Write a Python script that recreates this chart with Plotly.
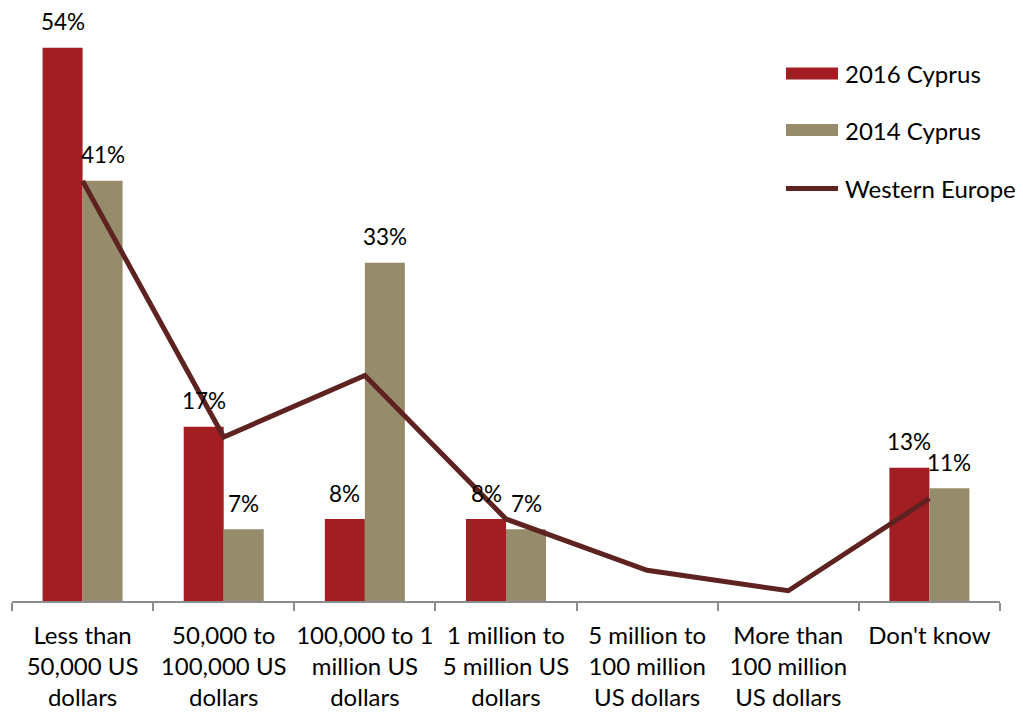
import plotly.graph_objects as go

# Survey categories (x axis) and shares in percent
categories = [
    "Less than<br>50,000 US<br>dollars",
    "50,000 to<br>100,000 US<br>dollars",
    "100,000 to 1<br>million US<br>dollars",
    "1 million to<br>5 million US<br>dollars",
    "5 million to<br>100 million<br>US dollars",
    "More than<br>100 million<br>US dollars",
    "Don't know",
]
cyprus_2016 = [54, 17, 8, 8, None, None, 13]
cyprus_2014 = [41, 7, 33, 7, None, None, 11]
western_europe = [41, 16, 22, 8, 3, 1, 10]

series_names = ["2016 Cyprus", "2014 Cyprus", "Western Europe"]

RED = "#A21E22"
TAN = "#968C6B"
LINE = "#5E2220"
FONT = "Lato"

W, H = 1023, 712
M_L, M_R, M_T, M_B = 12, 23, 0, 111
Y_MAX = 58.65

fig = go.Figure()
fig.add_trace(go.Bar(x=categories, y=cyprus_2016, name=series_names[0],
                     marker=dict(color=RED, line=dict(width=0))))
fig.add_trace(go.Bar(x=categories, y=cyprus_2014, name=series_names[1],
                     marker=dict(color=TAN, line=dict(width=0))))
fig.add_trace(go.Scatter(x=categories, y=western_europe, name=series_names[2],
                         mode="lines", line=dict(color=LINE, width=5)))

# Value labels above each bar
annotations = []
for vals, shift in ((cyprus_2016, -20), (cyprus_2014, 20)):
    for cat, v in zip(categories, vals):
        if v is None:
            continue
        annotations.append(dict(
            x=cat, y=v, xref="x", yref="y", text=f"{v}%", showarrow=False,
            xshift=shift, yshift=26, xanchor="center", yanchor="middle",
            font=dict(family=FONT, size=22.5, color="#000"),
        ))

# Legend drawn as swatches + text on the right
plot_w = W - M_L - M_R
plot_h = H - M_T - M_B


def px_x(px):
    return (px - M_L) / plot_w


def px_y(py):
    return (H - M_B - py) / plot_h


shapes = []
legend_rows = [(series_names[0], RED, 73.5, "bar"),
               (series_names[1], TAN, 130, "bar"),
               (series_names[2], LINE, 188.5, "line")]
for name, color, cy, kind in legend_rows:
    if kind == "bar":
        shapes.append(dict(type="rect", xref="paper", yref="paper",
                           x0=px_x(786), x1=px_x(838), y0=px_y(cy + 6), y1=px_y(cy - 6),
                           fillcolor=color, line=dict(width=0)))
    else:
        shapes.append(dict(type="line", xref="paper", yref="paper",
                           x0=px_x(786), x1=px_x(838), y0=px_y(cy), y1=px_y(cy),
                           line=dict(color=color, width=5)))
    annotations.append(dict(
        x=px_x(843), y=px_y(cy), xref="paper", yref="paper", text=name,
        showarrow=False, xanchor="left", yanchor="middle",
        font=dict(family=FONT, size=24, color="#000"),
    ))

fig.update_layout(
    width=W, height=H,
    margin=dict(l=M_L, r=M_R, t=M_T, b=M_B, pad=0, autoexpand=False),
    paper_bgcolor="white", plot_bgcolor="white",
    barmode="group", bargap=0.433, bargroupgap=0,
    showlegend=False,
    font=dict(family=FONT, size=22, color="#000"),
    annotations=annotations, shapes=shapes,
    xaxis=dict(
        type="category", showgrid=False, zeroline=False,
        showline=True, linecolor="#8C8C8C", linewidth=2,
        ticks="outside", tickson="boundaries", ticklen=8,
        tickcolor="#8C8C8C", tickwidth=2, ticklabelstandoff=12,
        tickangle=0, automargin=False,
        tickfont=dict(family=FONT, size=24, color="#000"),
    ),
    yaxis=dict(range=[0, Y_MAX], visible=False, showgrid=False, zeroline=False,
               automargin=False),
)

fig.write_html("out.html")
